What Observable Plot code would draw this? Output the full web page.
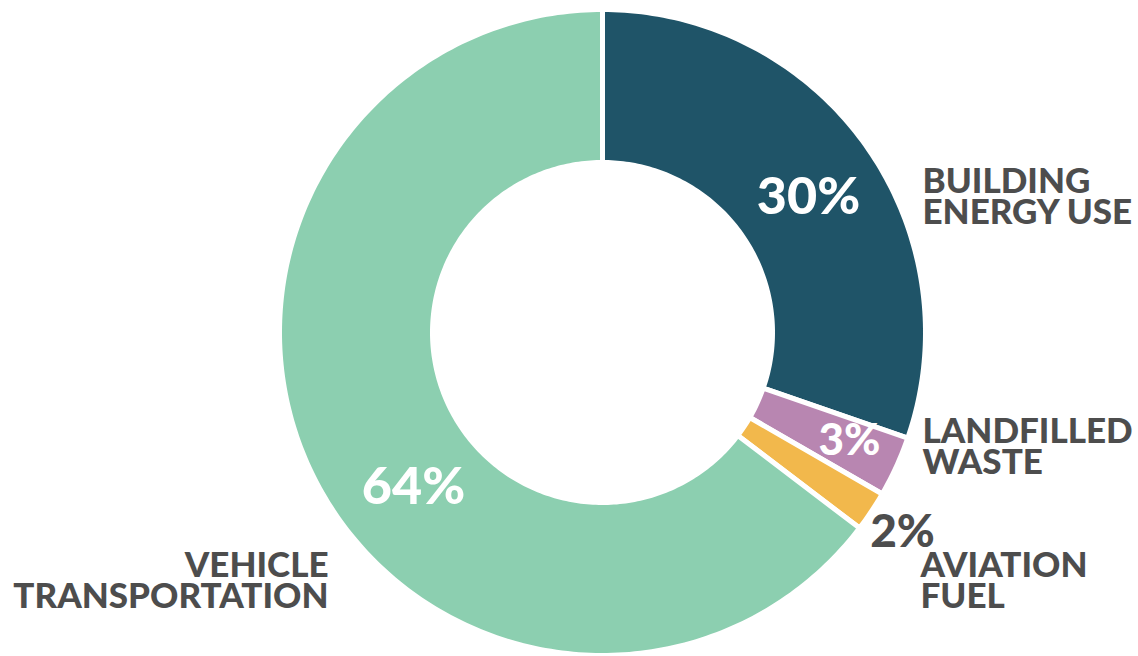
<!DOCTYPE html>
<html>
<head>
<meta charset="utf-8">
<script src="https://cdn.jsdelivr.net/npm/d3@7"></script>
<script src="https://cdn.jsdelivr.net/npm/@observablehq/plot@0.6"></script>
<style>
  html, body { margin: 0; padding: 0; background: #fff; }
  #chart svg { display: block; }
</style>
</head>
<body>
<div id="chart"></div>
<script>
// ---- data ----
const categories = ["BUILDING ENERGY USE", "LANDFILLED WASTE", "AVIATION FUEL", "VEHICLE TRANSPORTATION"];
const labelLines = ["BUILDING\nENERGY USE", "LANDFILLED\nWASTE", "AVIATION\nFUEL", "VEHICLE\nTRANSPORTATION"];
const values = [30, 3, 2, 64];
const percentLabels = ["30%", "3%", "2%", "64%"];
const colors = ["#1f5468", "#b886b1", "#f2b84c", "#8ccfb0"];

// ---- layout (pixels relative to donut center; y up) ----
const W = 1138, H = 656;
const cx = 602, cy = 332;
const outerR = 323, innerR = 170;
const pctPos = [[206, 135], [247, -108], [300, -200], [-189, -155]];
const pctColor = ["#fff", "#fff", "#4d4d4d", "#fff"];
const pctSize = [52, 44, 46, 52];
const catPos = [[320, 134], [320, -116], [318, -250], [-274, -250]];
const catAnchor = ["start", "start", "start", "end"];

const total = d3.sum(values);
const slices = [];
let acc = 0;
values.forEach((v, i) => {
  const a0 = acc / total * 2 * Math.PI;
  acc += v;
  const a1 = acc / total * 2 * Math.PI;
  const n = Math.max(4, Math.ceil((a1 - a0) / (Math.PI / 180)));
  for (let k = 0; k <= n; k++) {
    const a = a0 + (a1 - a0) * k / n;
    slices.push({cat: categories[i], x: outerR * Math.sin(a), y: outerR * Math.cos(a)});
  }
  for (let k = n; k >= 0; k--) {
    const a = a0 + (a1 - a0) * k / n;
    slices.push({cat: categories[i], x: innerR * Math.sin(a), y: innerR * Math.cos(a)});
  }
});

const pctData = percentLabels.map((t, i) => ({t, x: pctPos[i][0], y: pctPos[i][1], c: pctColor[i], s: pctSize[i]}));
const catData = labelLines.map((t, i) => ({t, x: catPos[i][0], y: catPos[i][1], a: catAnchor[i]}));

const font = "Lato, 'DejaVu Sans', sans-serif";

const plot = Plot.plot({
  width: W, height: H,
  margin: 0,
  x: {domain: [-cx, W - cx], axis: null},
  y: {domain: [cy - H, cy], axis: null},
  color: {domain: categories, range: colors},
  marks: [
    Plot.line(slices, {x: "x", y: "y", z: "cat", fill: "cat", stroke: "#fff", strokeWidth: 5, curve: "linear-closed"}),
    ...pctData.map(d => Plot.text([d], {x: "x", y: "y", text: "t", fill: d.c, fontSize: d.s, fontWeight: 900, fontFamily: font, textAnchor: "middle"})),
    Plot.text(catData.filter(d => d.a === "start"), {x: "x", y: "y", text: "t", fill: "#4d4d4d", fontSize: 35, fontWeight: 900, fontFamily: font, textAnchor: "start", lineHeight: 0.9}),
    Plot.text(catData.filter(d => d.a === "end"), {x: "x", y: "y", text: "t", fill: "#4d4d4d", fontSize: 35, fontWeight: 900, fontFamily: font, textAnchor: "end", lineHeight: 0.9})
  ]
});
document.getElementById("chart").appendChild(plot);
</script>
</body>
</html>
